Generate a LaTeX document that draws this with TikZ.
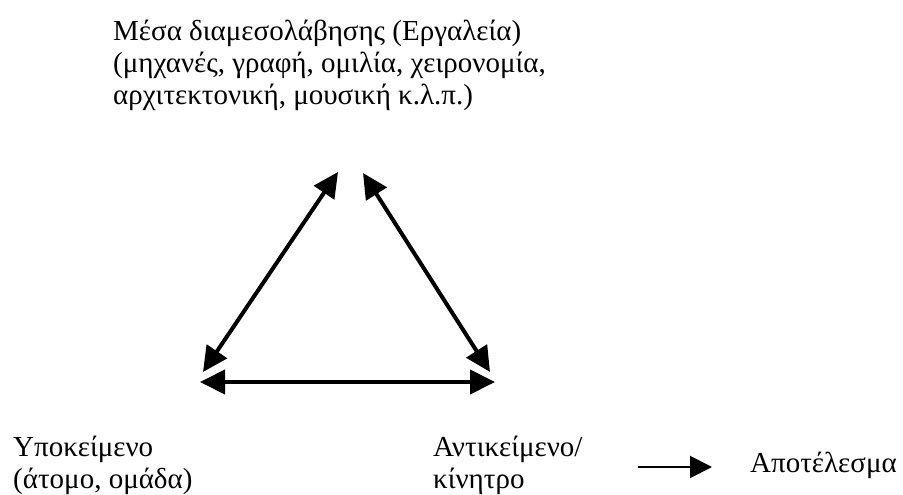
\documentclass[tikz,border=0pt]{standalone}
\usepackage{fontspec}
\setmainfont{Liberation Serif}
\usetikzlibrary{arrows.meta}
\tikzset{txt/.style={anchor=north west, align=left, inner sep=0pt, font=\fontsize{29pt}{32pt}\selectfont}}
\tikzset{dblarrow/.style={{Triangle[length=25pt,width=24pt]}-{Triangle[length=25pt,width=24pt]}, line width=4pt}}

\begin{document}
\begin{tikzpicture}[x=1pt, y=-1pt]
\path[use as bounding box] (0,0) rectangle (903,495);
\node[txt] (tools) at (113,20) {Μέσα διαμεσολάβησης (Εργαλεία)\\(μηχανές, γραφή, ομιλία, χειρονομία,\\αρχιτεκτονική, μουσική κ.λ.π.)};
\node[txt] (subject) at (13,436) {Υποκείμενο\\(άτομο, ομάδα)};
\node[txt] (object) at (433,436) {Αντικείμενο/\\κίνητρο};
\node[txt, anchor=base west] (result) at (750,472) {Αποτέλεσμα};
% triangle corners
\coordinate (toolsL) at (338,172); \coordinate (toolsR) at (363,173);
\coordinate (subjT) at (203,372); \coordinate (objT) at (490,372);
\coordinate (subjR) at (200,382); \coordinate (objL) at (495,382);
\coordinate (objout) at (638,467); \coordinate (resin) at (712,467);
\draw[dblarrow] (toolsL) -- (subjT);
\draw[dblarrow] (toolsR) -- (objT);
\draw[dblarrow] (subjR) -- (objL);
\draw[-{Triangle[length=22pt,width=22pt]}, line width=2pt] (objout) -- (resin);
\end{tikzpicture}
\end{document}
